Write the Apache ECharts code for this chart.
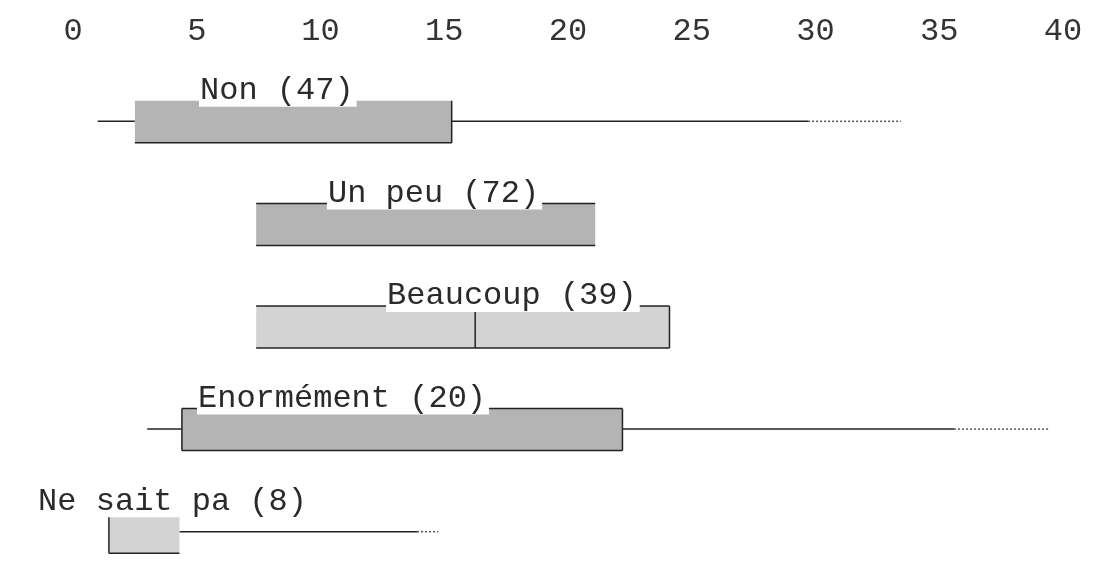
<!DOCTYPE html>
<html>
<head>
<meta charset="utf-8">
<script src="https://cdn.jsdelivr.net/npm/echarts@6/dist/echarts.min.js"></script>
<style>
  html, body { margin: 0; padding: 0; background: #fff; }
  #chart { width: 1100px; height: 583px; }
</style>
</head>
<body>
<div id="chart"></div>
<script>
// categories, top to bottom
var categories = ['Non (47)', 'Un peu (72)', 'Beaucoup (39)', 'Enormément (20)', 'Ne sait pa (8)'];
// (null = not drawn)
var whiskerLow  = [1.0, null, null, 3.0, null];
var q1          = [2.5, 7.4, 7.4, 4.4, 1.45];
var median      = [null, null, 16.25, null, null];
var q3          = [15.3, 21.1, 24.1, 22.2, 4.3];
var whiskerHigh = [29.7, null, null, 35.6, 13.9];
var dottedEnd   = [33.45, null, null, 39.4, 14.75];
// where each label starts, in axis units
var labelAt     = [5.09, 10.26, 12.65, 5.01, -1.45];
var xTicks      = [0, 5, 10, 15, 20, 25, 30, 35, 40];

// styles
var fills = ['#b4b4b4', '#b4b4b4', '#d3d3d3', '#b4b4b4', '#d3d3d3'];
var edges = ['rb', 'tb', 'trb', 'tlrb', 'lb'];
var ink = '#222';
var monoFont = 'Liberation Mono';

function renderItem(params, api) {
  var i = params.dataIndex;
  var cy = api.coord([0, i])[1];
  var half = api.size([0, 1])[1] * 0.2;
  var top = cy - half, bot = cy + half + 1;
  var x1 = api.coord([q1[i], i])[0];
  var x3 = api.coord([q3[i], i])[0];
  var kids = [];
  var lineStyle = { stroke: ink, lineWidth: 1.5 };

  if (whiskerLow[i] != null) {
    var xl = api.coord([whiskerLow[i], i])[0];
    kids.push({ type: 'line', shape: { x1: xl, y1: cy, x2: x1, y2: cy }, style: lineStyle });
  }
  if (whiskerHigh[i] != null) {
    var xh = api.coord([whiskerHigh[i], i])[0];
    kids.push({ type: 'line', shape: { x1: x3, y1: cy, x2: xh, y2: cy }, style: lineStyle });
    if (dottedEnd[i] != null) {
      var xd = api.coord([dottedEnd[i], i])[0];
      kids.push({ type: 'line', shape: { x1: xh, y1: cy, x2: xd, y2: cy },
        style: { stroke: '#555', lineWidth: 1.5, lineDash: [2, 2] } });
    }
  }

  kids.push({ type: 'rect', shape: { x: x1, y: top, width: x3 - x1, height: bot - top },
    style: { fill: fills[i] } });

  var e = edges[i];
  if (e.indexOf('t') >= 0) kids.push({ type: 'line', shape: { x1: x1, y1: top, x2: x3, y2: top }, style: lineStyle });
  if (e.indexOf('b') >= 0) kids.push({ type: 'line', shape: { x1: x1, y1: bot, x2: x3, y2: bot }, style: lineStyle });
  if (e.indexOf('l') >= 0) kids.push({ type: 'line', shape: { x1: x1, y1: top, x2: x1, y2: bot }, style: lineStyle });
  if (e.indexOf('r') >= 0) kids.push({ type: 'line', shape: { x1: x3, y1: top, x2: x3, y2: bot }, style: lineStyle });

  if (median[i] != null) {
    var xm = api.coord([median[i], i])[0];
    kids.push({ type: 'line', shape: { x1: xm, y1: top, x2: xm, y2: bot }, style: lineStyle });
  }

  var lx = api.coord([labelAt[i], i])[0];
  kids.push({
    type: 'text',
    style: {
      text: categories[i],
      x: lx, y: top + 6,
      align: 'left', verticalAlign: 'bottom',
      font: '32px "' + monoFont + '"',
      fill: '#2a2a2a',
      lineHeight: 32,
      backgroundColor: '#fff',
      padding: [2, 3, 0, 1]
    }
  });

  return { type: 'group', children: kids };
}

var chart = echarts.init(document.getElementById('chart'));
var option = {
  backgroundColor: '#fff',
  animation: false,
  grid: { left: 73, right: 37, top: 70, height: 517 },
  xAxis: {
    type: 'value',
    position: 'top',
    min: 0, max: 40, interval: 5,
    axisLine: { show: false },
    axisTick: { show: false },
    splitLine: { show: false },
    axisLabel: {
      margin: 22,
      color: '#333',
      fontFamily: monoFont,
      fontSize: 32,
      formatter: function (v) { return xTicks.indexOf(v) >= 0 ? String(v) : ''; }
    }
  },
  yAxis: {
    type: 'category',
    data: categories,
    inverse: true,
    show: false
  },
  series: [{
    type: 'custom',
    renderItem: renderItem,
    clip: false,
    encode: { x: 1, y: 0 },
    data: categories.map(function (c, i) { return [i, q1[i], q3[i]]; })
  }]
};
chart.setOption(option);
</script>
</body>
</html>
